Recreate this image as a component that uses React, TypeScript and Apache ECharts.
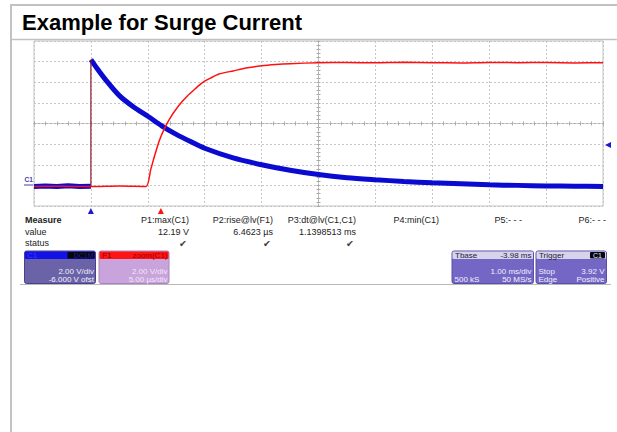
import React, { useEffect, useRef } from "react";
import * as echarts from "echarts";

// ---------- data (time in ms, voltage in V) ----------
// C1 (blue) before the trigger
const c1PreTime = [-1.0, -0.8, -0.6, -0.4, -0.2, 0.0];
const c1PreVolt = [-0.1, -0.06, -0.12, -0.04, -0.1, -0.08];
// C1 (blue) after the surge
const c1Time = [0.0, 0.1, 0.25, 0.5, 0.75, 1.0, 1.25, 1.5, 1.75, 2.0, 2.5, 3.0, 3.5, 4.0, 4.5, 5.0, 5.5, 6.0, 6.5, 7.0, 7.5, 8.0, 8.5, 9.0];
const c1Volt = [12.19, 11.4, 10.3, 8.7, 7.6, 6.7, 5.75, 4.95, 4.25, 3.6, 2.66, 2.0, 1.46, 1.05, 0.75, 0.55, 0.38, 0.25, 0.15, 0.05, 0.0, -0.05, -0.08, -0.1];
// F1 (red) zoom trace
const f1Time = [-1.0, -0.5, 0.0, 0.5, 0.97, 1.05, 1.1, 1.2, 1.3, 1.4, 1.5, 1.6, 1.7, 1.8, 1.9, 2.0, 2.1, 2.25, 2.5, 2.75, 3.0, 3.25, 3.5, 4.0, 4.5, 5.0, 5.5, 6.0, 6.5, 7.0, 7.5, 8.0, 8.5, 9.0];
const f1Volt = [-0.1, -0.08, -0.12, -0.05, -0.1, 1.5, 2.5, 4.3, 5.6, 6.6, 7.4, 8.1, 8.7, 9.2, 9.7, 10.1, 10.4, 10.8, 11.1, 11.4, 11.6, 11.72, 11.8, 11.9, 11.92, 11.88, 11.93, 11.9, 11.87, 11.92, 11.9, 11.91, 11.87, 11.9];

const triggerLevel = 3.92;
const f1MarkerTime = 1.23;

// ---------- measurement table ----------
const title = "Example for Surge Current";
const measureHeaders = ["P1:max(C1)", "P2:rise@lv(F1)", "P3:dt@lv(C1,C1)", "P4:min(C1)", "P5:- - -", "P6:- - -"];
const measureValues = ["12.19 V", "6.4623 µs", "1.1398513 ms", "", "", ""];
const measureStatus = [true, true, true, false, false, false];

const FONT = '"Liberation Sans", Arial, sans-serif';

function txt(text: string, x: number, y: number, o: any = {}) {
  const align = o.align || "left";
  const va = o.va || "middle";
  return {
    type: "text",
    x,
    y,
    silent: true,
    z: 10,
    style: {
      text,
      fill: o.fill || "#222",
      fontSize: o.size || 9,
      fontWeight: o.weight || "normal",
      fontFamily: o.family || FONT,
      align,
      verticalAlign: va,
      textAlign: align,
      textVerticalAlign: va,
    },
  };
}
function rect(x: number, y: number, w: number, h: number, fill: string, stroke?: string, r = 0) {
  return {
    type: "rect",
    silent: true,
    z: 5,
    shape: { x, y, width: w, height: h, r },
    style: { fill, stroke: stroke || "none", lineWidth: stroke ? 1 : 0 },
  };
}
function line(x1: number, y1: number, x2: number, y2: number, stroke: string, w = 1) {
  return { type: "line", silent: true, z: 5, shape: { x1, y1, x2, y2 }, style: { stroke, lineWidth: w } };
}

export default function App() {
  const ref = useRef<HTMLDivElement>(null);
  useEffect(() => {
    if (!ref.current) return;
    const chart = echarts.init(ref.current, undefined, { renderer: "svg" });

    const colRight = [189, 273, 356, 439, 522, 606];
    const graphic: any[] = [];
    // frame
    graphic.push(line(11, 4, 11, 432, "#c2c2c2", 2));
    graphic.push(line(10, 5, 617, 5, "#c2c2c2", 2));
    graphic.push(line(10, 39.5, 617, 39.5, "#c2c2c2", 1.5));
    graphic.push(txt(title, 22, 22, { size: 22, weight: "bold", fill: "#000" }));
    // C1 ground marker
    graphic.push(txt("C1", 24.5, 179.5, { size: 6.5, fill: "#4a3aa8", weight: "bold" }));
    graphic.push(line(24, 185, 33, 185, "#4a3aa8", 1));
    // measure table
    graphic.push(txt("Measure", 25, 219.5, { weight: "bold" }));
    graphic.push(txt("value", 25, 231.5));
    graphic.push(txt("status", 25, 243));
    measureHeaders.forEach((h, i) => {
      graphic.push(txt(h, colRight[i], 219.5, { align: "right" }));
      if (measureValues[i]) graphic.push(txt(measureValues[i], colRight[i], 231.5, { align: "right" }));
      if (measureStatus[i])
        graphic.push(txt("✔", colRight[i] - 2, 243.5, { align: "right", size: 9.5, fill: "#3a3a3a", family: '"DejaVu Sans", sans-serif' }));
    });
    // C1 box
    graphic.push(rect(24.5, 251, 71, 32.5, "#6b63a8", "#4a4288", 2));
    graphic.push(rect(25, 251.5, 70, 7.5, "#1212e6", undefined, 1));
    graphic.push(txt("C1", 27, 255.3, { size: 8, fill: "#3a3aff" }));
    graphic.push(rect(67.5, 252, 27, 6.5, "#050510", undefined, 1));
    graphic.push(txt("DC1M", 93.5, 255.3, { size: 7, fill: "#1e1e9a", align: "right" }));
    graphic.push(txt("2.00 V/div", 94, 271, { size: 8, fill: "#f2f0ff", align: "right" }));
    graphic.push(txt("-6.000 V ofst", 94, 279.5, { size: 8, fill: "#f2f0ff", align: "right" }));
    // F1 box
    graphic.push(rect(99, 251, 70, 32.5, "#c9a3db", "#a884c0", 2));
    graphic.push(rect(99.5, 251.5, 69, 7.5, "#ff1414", undefined, 1));
    graphic.push(txt("F1", 102, 255.3, { size: 8, fill: "#8a0000" }));
    graphic.push(txt("zoom(C1)", 167.5, 255.3, { size: 8, fill: "#a00000", align: "right" }));
    graphic.push(txt("2.00 V/div", 167.5, 271, { size: 8, fill: "#f3e8f8", align: "right" }));
    graphic.push(txt("5.00 µs/div", 167.5, 279.5, { size: 8, fill: "#f3e8f8", align: "right" }));
    // Tbase box
    graphic.push(rect(452, 251, 81.5, 32.5, "#7466c4", "#5a4ea8", 2));
    graphic.push(rect(452.5, 251.5, 80.5, 7.5, "#d6d3ea", undefined, 1));
    graphic.push(txt("Tbase", 455, 255.3, { size: 8, fill: "#222240" }));
    graphic.push(txt("-3.98 ms", 531.5, 255.3, { size: 8, fill: "#222240", align: "right" }));
    graphic.push(txt("1.00 ms/div", 531.5, 271, { size: 8, fill: "#f2f0ff", align: "right" }));
    graphic.push(txt("500 kS", 454.5, 279.5, { size: 8, fill: "#f2f0ff" }));
    graphic.push(txt("50 MS/s", 531.5, 279.5, { size: 8, fill: "#f2f0ff", align: "right" }));
    // Trigger box
    graphic.push(rect(536, 251, 70.5, 32.5, "#7466c4", "#5a4ea8", 2));
    graphic.push(rect(536.5, 251.5, 69.5, 7.5, "#d6d3ea", undefined, 1));
    graphic.push(txt("Trigger", 539, 255.3, { size: 8, fill: "#222240" }));
    graphic.push(rect(590, 252, 15, 6.5, "#050510", undefined, 1));
    graphic.push(txt("C1", 597.5, 255.3, { size: 7, fill: "#e8e8ff", align: "center" }));
    graphic.push(txt("Stop", 538.5, 271, { size: 8, fill: "#f2f0ff" }));
    graphic.push(txt("3.92 V", 604.5, 271, { size: 8, fill: "#f2f0ff", align: "right" }));
    graphic.push(txt("Edge", 538.5, 279.5, { size: 8, fill: "#f2f0ff" }));
    graphic.push(txt("Positive", 604.5, 279.5, { size: 8, fill: "#f2f0ff", align: "right" }));
    // bottom separator
    graphic.push(line(20, 284.5, 611, 284.5, "#b8b8b8", 1));

    const gridLine = { show: true, lineStyle: { color: "#c6c6c6", type: [2, 2], width: 1 } };
    const hidden = { axisLabel: { show: false }, axisTick: { show: false } };
    const centerAxis = (pos: string, zeroIdx: number, min: number, max: number) => ({
      type: "value",
      min,
      max,
      interval: 1,
      position: pos,
      axisLine: { show: true, onZero: true, onZeroAxisIndex: zeroIdx, lineStyle: { color: "#b0b0b0", type: [2, 2], width: 1 } },
      axisTick: { show: true, length: 2, lineStyle: { color: "#aaaaaa" } },
      minorTick: { show: true, splitNumber: 5, length: 2, lineStyle: { color: "#aaaaaa" } },
      axisLabel: { show: false },
      splitLine: { show: false },
    });

    const option: any = {
      animation: false,
      backgroundColor: "#ffffff",
      grid: { left: 34, top: 41, width: 569, height: 165, show: true, borderColor: "#c4c4c4", borderWidth: 1, backgroundColor: "transparent" },
      xAxis: [
        { type: "value", min: -1, max: 9, interval: 1, axisLine: { show: false, onZero: false }, splitLine: gridLine, ...hidden },
        centerAxis("bottom", 1, -5, 5),
        centerAxis("top", 1, -5, 5),
      ],
      yAxis: [
        { type: "value", min: -2, max: 14, interval: 2, axisLine: { show: false, onZero: false }, splitLine: gridLine, ...hidden },
        centerAxis("left", 1, -4, 4),
        centerAxis("right", 1, -4, 4),
      ],
      graphic,
      series: [
        {
          name: "C1 pre",
          type: "line",
          symbol: "none",
          data: c1PreTime.map((t, i) => [t, c1PreVolt[i]]),
          lineStyle: { color: "#0a0ad0", width: 5 },
          z: 2,
        },
        {
          name: "C1",
          type: "line",
          symbol: "none",
          smooth: 0.3,
          data: c1Time.map((t, i) => [t, c1Volt[i]]),
          lineStyle: { color: "#0a0ad0", width: 5 },
          z: 2,
          markPoint: {
            silent: true,
            label: { show: false },
            data: [
              { coord: [0, -2], symbol: "triangle", symbolSize: [6, 6], symbolOffset: [0, 5], itemStyle: { color: "#1a1ad0" } },
              { coord: [9, triggerLevel], symbol: "triangle", symbolSize: [6, 6], symbolRotate: 90, symbolOffset: [5, 0], itemStyle: { color: "#1a1ad0" } },
            ],
          },
        },
        {
          name: "C1 edge",
          type: "line",
          symbol: "none",
          data: [
            [c1Time[0], c1PreVolt[c1PreVolt.length - 1]],
            [c1Time[0], c1Volt[0]],
          ],
          lineStyle: { color: "#8a1a2a", width: 1.2 },
          z: 3,
        },
        {
          name: "F1",
          type: "line",
          symbol: "none",
          smooth: 0.2,
          data: f1Time.map((t, i) => [t, f1Volt[i]]),
          lineStyle: { color: "#ff1010", width: 1.5 },
          z: 4,
          markPoint: {
            silent: true,
            label: { show: false },
            data: [{ coord: [f1MarkerTime, -2], symbol: "triangle", symbolSize: [6, 6], symbolOffset: [0, 5], itemStyle: { color: "#ff1010" } }],
          },
        },
      ],
    };
    chart.setOption(option);
    return () => chart.dispose();
  }, []);
  return <div ref={ref} style={{ position: "fixed", left: 0, top: 0, width: 617, height: 432, background: "#fff" }} />;
}
